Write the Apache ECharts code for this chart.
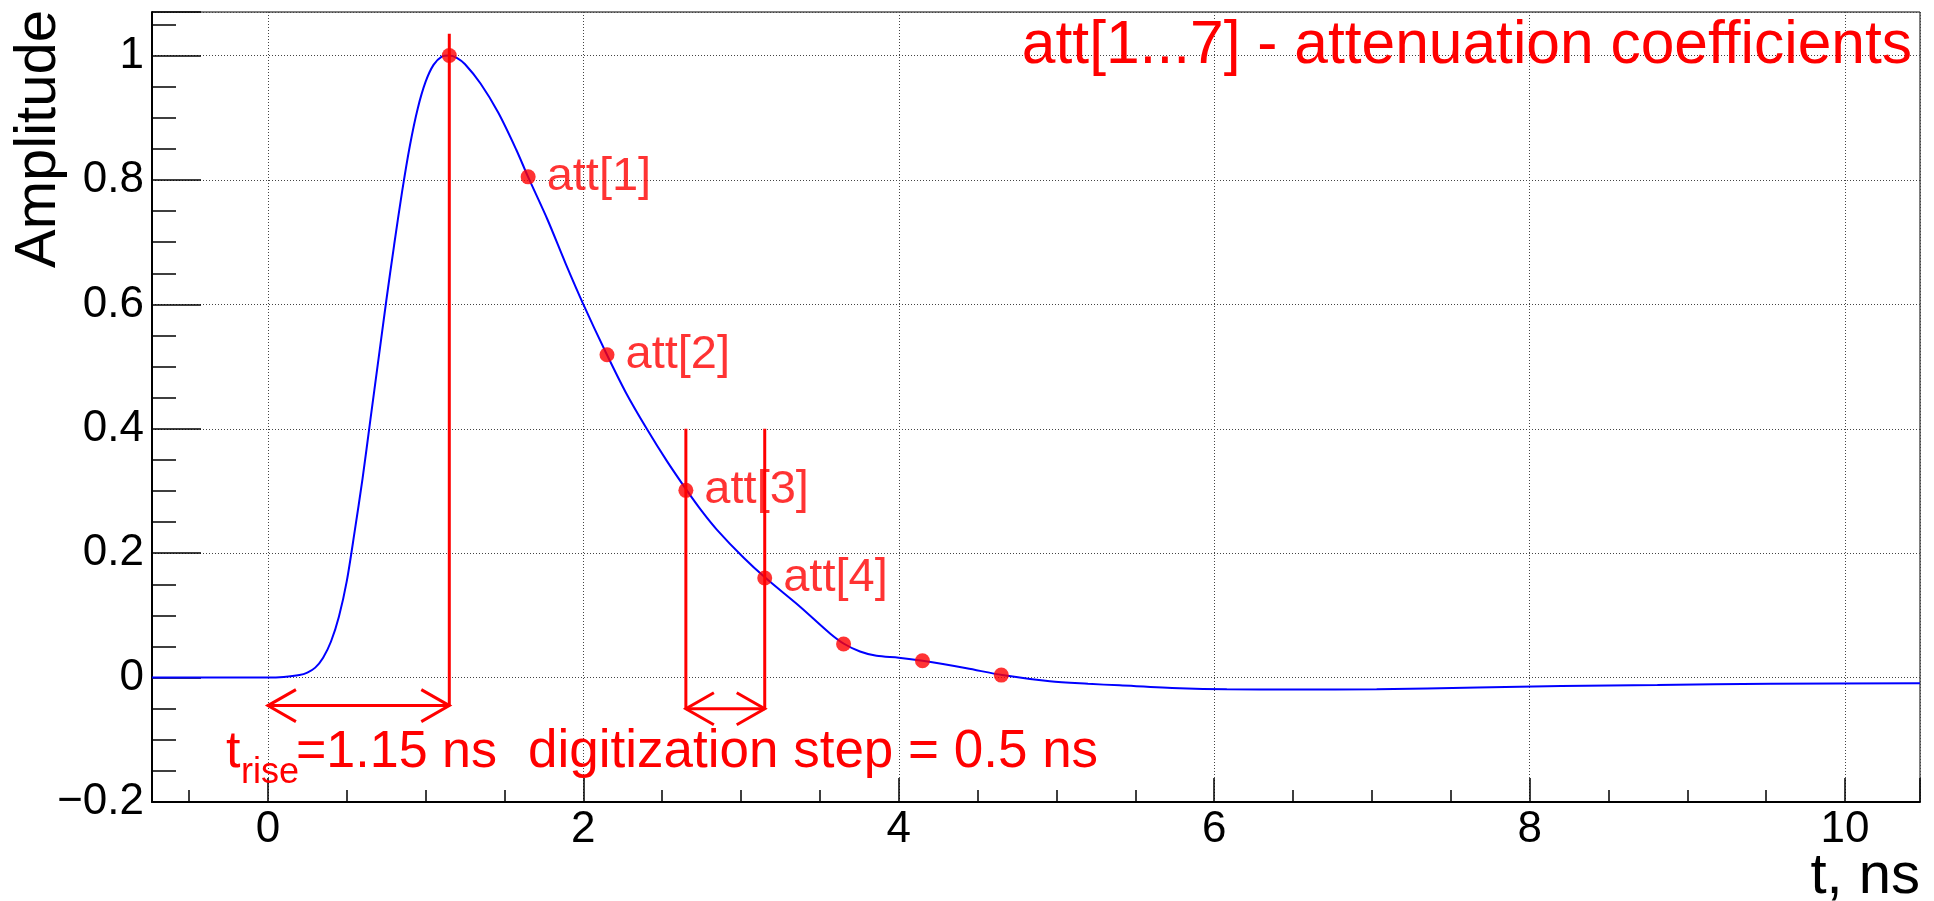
<!DOCTYPE html>
<html><head><meta charset="utf-8">
<script src="https://cdn.jsdelivr.net/npm/echarts@6/dist/echarts.min.js"></script>
<style>html,body{margin:0;padding:0;background:#fff}#c{width:1934px;height:901px}</style>
</head><body><div id="c"></div>
<script>
// ---- data ----
const curveT = [-0.735, 0.0, 0.1, 0.2, 0.25, 0.3, 0.35, 0.4, 0.45, 0.5, 0.55, 0.6, 0.65, 0.7, 0.75, 0.8, 0.85, 0.9, 0.95, 1.0, 1.05, 1.1, 1.15, 1.2, 1.25, 1.348, 1.461, 1.574, 1.651, 1.773, 1.887, 2.0, 2.142, 2.27, 2.402, 2.53, 2.656, 2.75, 2.846, 3.015, 3.156, 3.374, 3.564, 3.655, 3.754, 3.859, 4.0, 4.151, 4.43, 4.656, 4.958, 5.2, 5.4, 5.78, 6.08, 6.5, 7.03, 7.67, 8.2, 8.81, 9.53, 10.475];
const curveA = [0, 0, 0.001, 0.004, 0.008, 0.016, 0.032, 0.058, 0.098, 0.155, 0.235, 0.32, 0.415, 0.51, 0.605, 0.695, 0.78, 0.855, 0.915, 0.958, 0.985, 0.998, 1.0, 0.996, 0.986, 0.955, 0.908, 0.849, 0.804, 0.736, 0.666, 0.6, 0.523, 0.458, 0.4, 0.348, 0.301, 0.268, 0.238, 0.193, 0.16, 0.114, 0.071, 0.054, 0.042, 0.035, 0.032, 0.027, 0.015, 0.004, -0.006, -0.01, -0.0125, -0.017, -0.0187, -0.019, -0.0187, -0.016, -0.0135, -0.012, -0.0098, -0.009];
const sampleT = [1.15, 1.65, 2.15, 2.65, 3.15, 3.65, 4.15, 4.65];
const sampleA = [1.0, 0.805, 0.519, 0.301, 0.16, 0.054, 0.027, 0.004];
const sampleLabels = ['', 'att[1]', 'att[2]', 'att[3]', 'att[4]', '', '', ''];
const xRange = [-0.735, 10.475];
const yRange = [-0.2, 1.07];
const doubleArrows = [[0, 1.15, -0.045], [2.65, 3.15, -0.05]];   // [xFrom, xTo, y]
const vLines = [[1.15, -0.045, 1.035], [2.65, -0.05, 0.4], [3.15, -0.05, 0.4]]; // [x, yFrom, yTo]
const riseText = ['t', 'rise', '=1.15 ns'];
const stepText = 'digitization step = 0.5 ns';
const titleText = 'att[1...7] - attenuation coefficients';
const xName = 't, ns';
const yName = 'Amplitude';

// ---- chart ----
const FONT = '"Liberation Sans", Arial, Helvetica, sans-serif';
const RED = '#ff0000', BLUE = '#0000ff';
const chart = echarts.init(document.getElementById('c'), null, {renderer: 'canvas'});

const curveData = curveT.map((t, i) => [t, curveA[i]]);
const sampleData = sampleT.map((t, i) => ({value: [t, sampleA[i]], name: sampleLabels[i]}));

function xFmt(v) {
  const r = Math.round(v);
  if (Math.abs(v - r) > 1e-6 || r % 2 !== 0) return '';
  return String(r);
}
function yFmt(v) {
  const r = Math.round(v * 5) / 5;
  if (Math.abs(v - r) > 1e-6) return '';
  const s = String(Math.round(Math.abs(r) * 10) / 10);
  return r < 0 ? '\u2212' + s : s;
}

const option = {
  animation: false,
  backgroundColor: '#fff',
  grid: {left: 152, right: 14, top: 12, bottom: 99, outerBoundsMode: 'none', containLabel: false,
    show: true, borderColor: '#000', borderWidth: 1, backgroundColor: 'transparent'},
  xAxis: {
    type: 'value', min: xRange[0], max: xRange[1], minInterval: 2, maxInterval: 2,
    axisLine: {show: true, onZero: false, lineStyle: {color: '#000', width: 2}},
    axisTick: {show: true, inside: true, length: 24, lineStyle: {color: '#000', width: 1.5}},
    minorTick: {show: true, splitNumber: 4, length: 12, lineStyle: {color: '#000', width: 1.5}},
    splitLine: {show: true, lineStyle: {color: '#444', type: [1, 2], width: 1}},
    axisLabel: {fontFamily: FONT, fontSize: 44, color: '#000', margin: 6, formatter: xFmt},
    name: xName, nameLocation: 'end', nameGap: 0, nameMoveOverlap: false,
    nameTextStyle: {fontFamily: FONT, fontSize: 58, color: '#000', align: 'right', verticalAlign: 'top', padding: [46, 0, 0, 0]}
  },
  yAxis: {
    type: 'value', min: yRange[0], max: yRange[1], interval: 0.2,
    axisLine: {show: true, onZero: false, lineStyle: {color: '#000', width: 2}},
    axisTick: {show: true, inside: true, length: 49, lineStyle: {color: '#000', width: 1.5}},
    minorTick: {show: true, splitNumber: 4, length: 24, lineStyle: {color: '#000', width: 1.5}},
    splitLine: {show: true, lineStyle: {color: '#444', type: [1, 2], width: 1}},
    axisLabel: {fontFamily: FONT, fontSize: 44, color: '#000', margin: 8, formatter: yFmt},
    name: yName, nameLocation: 'end', nameGap: 2, nameRotate: 90, nameMoveOverlap: false,
    nameTextStyle: {fontFamily: FONT, fontSize: 58, color: '#000', align: 'right', verticalAlign: 'bottom', padding: [0, 0, 84, 0]}
  },
  series: [
    {
      type: 'line', data: curveData, showSymbol: false, smooth: 0.3,
      lineStyle: {color: BLUE, width: 2}, z: 2, silent: true
    },
    {
      type: 'custom', z: 3, silent: true,
      data: vLines,
      renderItem(params, api) {
        const a = api.coord([api.value(0), api.value(1)]);
        const b = api.coord([api.value(0), api.value(2)]);
        return {type: 'line', shape: {x1: a[0], y1: a[1], x2: b[0], y2: b[1]}, style: {stroke: RED, lineWidth: 3}};
      }
    },
    {
      type: 'custom', z: 3, silent: true,
      data: doubleArrows,
      renderItem(params, api) {
        const a = api.coord([api.value(0), api.value(2)]);
        const b = api.coord([api.value(1), api.value(2)]);
        const ax = 28, ay = 16;
        const st = {stroke: RED, lineWidth: 3, fill: null};
        return {type: 'group', children: [
          {type: 'line', shape: {x1: a[0], y1: a[1], x2: b[0], y2: b[1]}, style: st},
          {type: 'polyline', shape: {points: [[a[0] + ax, a[1] - ay], [a[0], a[1]], [a[0] + ax, a[1] + ay]]}, style: st},
          {type: 'polyline', shape: {points: [[b[0] - ax, b[1] - ay], [b[0], b[1]], [b[0] - ax, b[1] + ay]]}, style: st}
        ]};
      }
    },
    {
      type: 'scatter', data: sampleData, symbol: 'circle', symbolSize: 15, z: 4, silent: true,
      itemStyle: {color: RED},
      label: {show: true, position: 'right', distance: 11, color: RED, fontFamily: FONT, fontSize: 47,
        formatter: p => p.name}
    }
  ],
  graphic: [
    {type: 'text', x: 1912, y: 46, z: 10, style: {text: titleText, fill: RED, font: '60.5px ' + FONT, align: 'right', verticalAlign: 'middle'}},
    {type: 'text', x: 226, y: 753, z: 10, style: {text: riseText[0], fill: RED, font: '52px ' + FONT, align: 'left', verticalAlign: 'middle'}},
    {type: 'text', x: 241, y: 773, z: 10, style: {text: riseText[1], fill: RED, font: '36px ' + FONT, align: 'left', verticalAlign: 'middle'}},
    {type: 'text', x: 296, y: 753, z: 10, style: {text: riseText[2], fill: RED, font: '52px ' + FONT, align: 'left', verticalAlign: 'middle'}},
    {type: 'text', x: 528, y: 752, z: 10, style: {text: stepText, fill: RED, font: '53px ' + FONT, align: 'left', verticalAlign: 'middle'}}
  ]
};
chart.setOption(option);
</script>
</body></html>
